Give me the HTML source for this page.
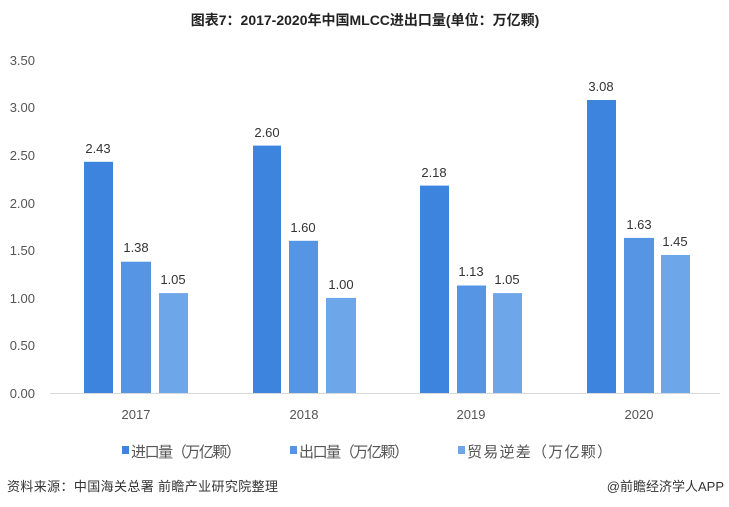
<!DOCTYPE html>
<html><head><meta charset="utf-8"><style>
body{margin:0;background:#fff;}
svg{display:block;font-family:"Liberation Sans","Noto Sans CJK SC",sans-serif;}
</style></head><body>
<svg width="729" height="507" viewBox="0 0 729 507">
<text x="365" y="25" text-anchor="middle" font-size="14" font-weight="bold" fill="#222">图表7：2017-2020年中国MLCC进出口量(单位：万亿颗)</text>
<g font-size="13" fill="#555" text-anchor="end">
<text x="35" y="65">3.50</text>
<text x="35" y="112">3.00</text>
<text x="35" y="160">2.50</text>
<text x="35" y="208">2.00</text>
<text x="35" y="255">1.50</text>
<text x="35" y="303">1.00</text>
<text x="35" y="350">0.50</text>
<text x="35" y="398">0.00</text>
</g>
<line x1="50" y1="393.5" x2="720" y2="393.5" stroke="#d9d9d9" stroke-width="1"/>
<g>
<rect x="84" y="161.8" width="29" height="231.2" fill="#3d84df"/>
<rect x="121" y="261.7" width="30" height="131.3" fill="#5595e4"/>
<rect x="159" y="293.1" width="29" height="99.9" fill="#6ea6ea"/>
<rect x="253" y="145.6" width="28" height="247.4" fill="#3d84df"/>
<rect x="289" y="240.8" width="29" height="152.2" fill="#5595e4"/>
<rect x="326" y="297.9" width="30" height="95.1" fill="#6ea6ea"/>
<rect x="420" y="185.6" width="29" height="207.4" fill="#3d84df"/>
<rect x="457" y="285.5" width="29" height="107.5" fill="#5595e4"/>
<rect x="493" y="293.1" width="29" height="99.9" fill="#6ea6ea"/>
<rect x="587" y="100" width="29" height="293" fill="#3d84df"/>
<rect x="624" y="237.9" width="30" height="155.1" fill="#5595e4"/>
<rect x="661" y="255" width="29" height="138" fill="#6ea6ea"/>
</g>
<g font-size="13" fill="#333" text-anchor="middle">
<text x="98" y="153">2.43</text>
<text x="136" y="252">1.38</text>
<text x="173" y="284">1.05</text>
<text x="267" y="137">2.60</text>
<text x="303" y="232">1.60</text>
<text x="341" y="289">1.00</text>
<text x="434" y="177">2.18</text>
<text x="471" y="276">1.13</text>
<text x="507" y="284">1.05</text>
<text x="601" y="91">3.08</text>
<text x="639" y="229">1.63</text>
<text x="675" y="246">1.45</text>
</g>
<g font-size="13" fill="#555" text-anchor="middle">
<text x="136" y="419">2017</text>
<text x="304" y="419">2018</text>
<text x="471" y="419">2019</text>
<text x="639" y="419">2020</text>
</g>
<g font-size="15" fill="#555">
<rect x="122" y="446" width="7" height="8" fill="#3d84df"/>
<text x="131" y="457" textLength="110">进口量（万亿颗）</text>
<rect x="290" y="446" width="7" height="8" fill="#5595e4"/>
<text x="299" y="457" textLength="110">出口量（万亿颗）</text>
<rect x="458" y="446" width="7" height="8" fill="#6ea6ea"/>
<text x="467" y="457" textLength="145">贸易逆差（万亿颗）</text>
</g>
<text x="7" y="491" font-size="13" fill="#333" textLength="271">资料来源：中国海关总署 前瞻产业研究院整理</text>
<text x="724" y="491" font-size="13" fill="#333" text-anchor="end">@前瞻经济学人APP</text>
</svg>
</body></html>
